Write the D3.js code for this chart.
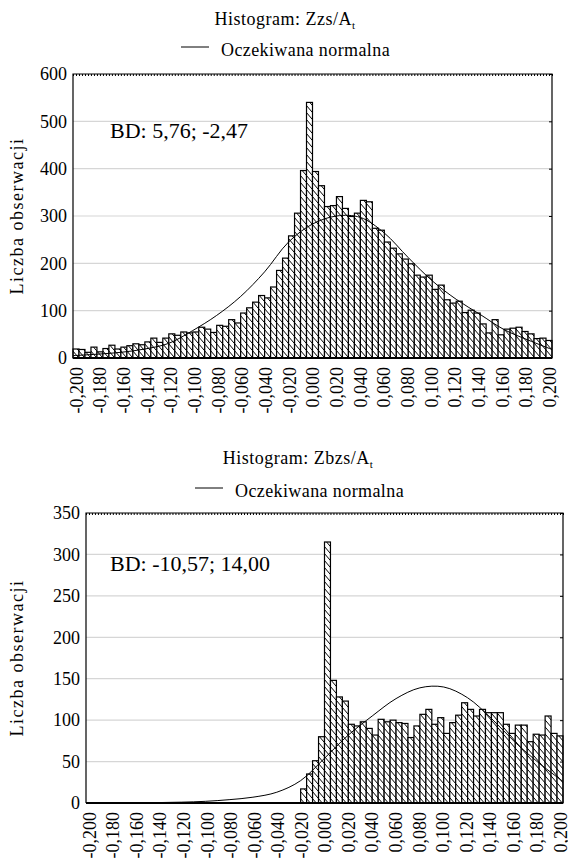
<!DOCTYPE html>
<html>
<head>
<meta charset="utf-8">
<script src="https://cdn.jsdelivr.net/npm/d3@7"></script>
<style>
body { margin: 0; background: #fff; }
svg { display: block; }
</style>
</head>
<body>
<svg width="568" height="861"></svg>
<script>
const FONT = '"Liberation Serif", "Times New Roman", serif';

// x axis: ticks every 0.02, bins of 0.005
const xTickValues = [-0.2, -0.18, -0.16, -0.14, -0.12, -0.1, -0.08, -0.06, -0.04, -0.02, 0,
  0.02, 0.04, 0.06, 0.08, 0.1, 0.12, 0.14, 0.16, 0.18, 0.2];
const xTickLabels = ["-0,200", "-0,180", "-0,160", "-0,140", "-0,120", "-0,100", "-0,080", "-0,060",
  "-0,040", "-0,020", "0,000", "0,020", "0,040", "0,060", "0,080", "0,100", "0,120", "0,140",
  "0,160", "0,180", "0,200"];
const binWidth = 0.005;
const binStarts = d3.range(80).map(i => -0.2 + i * binWidth);

// Zzs/At counts per bin
const zzsCounts = [19, 18, 12, 23, 13, 20, 27, 19, 23, 26,
  30, 28, 34, 42, 33, 42, 51, 48, 55, 53,
  55, 65, 61, 54, 69, 67, 81, 74, 95, 106,
  118, 132, 127, 150, 185, 211, 258, 306, 396, 540,
  394, 364, 320, 322, 341, 316, 299, 306, 333, 330,
  274, 270, 245, 232, 220, 209, 199, 175, 171, 175,
  145, 154, 123, 116, 120, 96, 101, 95, 72, 53,
  81, 49, 61, 63, 65, 56, 51, 41, 42, 37];
// expected normal read at each x tick
const zzsNormal = [5, 8, 12, 19, 31, 58, 90, 130, 182, 245, 283, 300, 297, 264, 212, 163, 124, 92, 60, 38, 18];

// Zbzs/At counts per bin
const zbzsCounts = [0, 0, 0, 0, 0, 0, 0, 0, 0, 0,
  0, 0, 0, 0, 0, 0, 0, 0, 0, 0,
  0, 0, 0, 0, 0, 0, 0, 0, 0, 0,
  0, 0, 0, 0, 0, 0, 17, 35, 51, 80,
  315, 148, 128, 123, 95, 93, 98, 90, 82, 101,
  98, 100, 97, 96, 79, 93, 107, 113, 95, 103,
  84, 97, 106, 121, 113, 105, 113, 109, 109, 109,
  95, 84, 94, 94, 74, 83, 82, 105, 84, 81];
const zbzsNormal = [0, 0.1, 0.2, 0.5, 1, 2, 4, 7, 13, 27, 54, 82, 105, 126, 139, 140, 127, 102, 73, 48, 26];

const svg = d3.select("svg");

const defs = svg.append("defs");
const pat = defs.append("pattern")
  .attr("id", "hatch")
  .attr("patternUnits", "userSpaceOnUse")
  .attr("width", 6).attr("height", 7);
pat.append("rect").attr("width", 6).attr("height", 7).attr("fill", "#fff");
pat.append("path")
  .attr("d", "M-1,-1.17 L7,8.17 M-7,-1.17 L1,8.17 M5,-1.17 L13,8.17")
  .attr("stroke", "#000").attr("stroke-width", 1);

function drawPanel(p) {
  const g = svg.append("g");
  const x = d3.scaleLinear().domain([-0.2, 0.2]).range([p.left, p.right]);
  // labels sit on the centres of the first and last bins
  const xLab = d3.scaleLinear().domain([-0.2, 0.2])
    .range([x(-0.2 + binWidth / 2), x(0.2 - binWidth / 2)]);
  const y = d3.scaleLinear().domain([0, p.yMax]).range([p.bottom, p.top]);
  const yTicks = d3.range(0, p.yMax + 1, p.yStep);

  // title + legend
  const t = g.append("text")
    .attr("x", p.titleX).attr("y", p.titleY)
    .attr("text-anchor", "middle")
    .attr("font-family", FONT).attr("font-size", 18).attr("letter-spacing", 0.5)
    .text(p.title);
  t.append("tspan").attr("font-size", 11).attr("dy", 4).text("t");

  g.append("line")
    .attr("x1", p.legendX).attr("x2", p.legendX + 28)
    .attr("y1", p.legendY - 9).attr("y2", p.legendY - 9)
    .attr("stroke", "#000").attr("stroke-width", 1);
  g.append("text")
    .attr("x", p.legendX + 40).attr("y", p.legendY)
    .attr("font-family", FONT).attr("font-size", 18).attr("letter-spacing", 0.4)
    .text("Oczekiwana normalna");

  // gridlines
  g.append("g").selectAll("line")
    .data(yTicks.slice(1, -1))
    .join("line")
    .attr("x1", p.left).attr("x2", p.right)
    .attr("y1", d => y(d)).attr("y2", d => y(d))
    .attr("stroke", "#d6d6d6").attr("stroke-width", 1.2);

  // bars
  g.append("g").selectAll("rect")
    .data(p.counts.map((c, i) => ({ x0: binStarts[i], c })).filter(d => d.c > 0))
    .join("rect")
    .attr("x", d => x(d.x0))
    .attr("width", d => x(d.x0 + binWidth) - x(d.x0))
    .attr("y", d => y(d.c))
    .attr("height", d => y(0) - y(d.c))
    .attr("fill", "url(#hatch)")
    .attr("stroke", "#000").attr("stroke-width", 1.2);

  // expected normal curve
  const line = d3.line()
    .x((d, i) => x(xTickValues[i]))
    .y(d => y(d))
    .curve(d3.curveCatmullRom.alpha(0.5));
  g.append("path")
    .datum(p.normal)
    .attr("d", line)
    .attr("fill", "none").attr("stroke", "#000").attr("stroke-width", 1);

  // frame
  g.append("path")
    .attr("d", `M${p.left},${p.bottom}V${p.top}H${p.right}V${p.bottom}`)
    .attr("fill", "none").attr("stroke", "#000").attr("stroke-width", 1.2);

  // minor ticks on top border
  const topAxis = g.append("g")
    .attr("transform", `translate(0,${p.top})`)
    .call(d3.axisBottom(x).tickValues(d3.range(161).map(i => -0.2 + i * 0.0025)).tickSize(2).tickFormat(""));
  topAxis.select(".domain").remove();

  // ticks on right border
  const rightAxis = g.append("g")
    .attr("transform", `translate(${p.right},0)`)
    .call(d3.axisLeft(y).tickValues(yTicks).tickSize(3).tickFormat(""));
  rightAxis.select(".domain").remove();

  // y axis labels
  const yAxis = g.append("g")
    .attr("transform", `translate(${p.left},0)`)
    .call(d3.axisLeft(y).tickValues(yTicks).tickSize(0).tickPadding(6));
  yAxis.select(".domain").remove();
  yAxis.selectAll("text")
    .attr("font-family", FONT).attr("font-size", 18).attr("fill", "#000");

  // x axis
  const xAxis = g.append("g")
    .attr("transform", `translate(0,${p.bottom})`)
    .call(d3.axisBottom(xLab).tickValues(xTickValues).tickSize(0)
      .tickFormat((d, i) => xTickLabels[i]));
  xAxis.select(".domain")
    .attr("d", `M${p.left},0H${p.right}`)
    .attr("stroke-width", 2);
  xAxis.selectAll("text")
    .attr("font-family", FONT).attr("font-size", 18).attr("fill", "#000")
    .attr("text-anchor", "end")
    .attr("transform", "rotate(-90)")
    .attr("x", -9).attr("y", 0).attr("dy", "0.35em");

  // y title
  g.append("text")
    .attr("transform", `translate(17,${(p.top + p.bottom) / 2}) rotate(-90)`)
    .attr("text-anchor", "middle").attr("dy", "0.35em")
    .attr("font-family", FONT).attr("font-size", 18).attr("letter-spacing", 1.5)
    .text("Liczba obserwacji");

  // annotation
  g.append("text")
    .attr("x", 110).attr("y", p.bdY)
    .attr("font-family", FONT).attr("font-size", 22)
    .text(p.bd);
}

drawPanel({
  title: "Histogram: Zzs/A", counts: zzsCounts, normal: zzsNormal,
  yMax: 600, yStep: 100, left: 73, right: 552, top: 74, bottom: 358,
  titleX: 285, titleY: 25, legendX: 181, legendY: 56,
  bd: "BD: 5,76; -2,47", bdY: 138
});

drawPanel({
  title: "Histogram: Zbzs/A", counts: zbzsCounts, normal: zbzsNormal,
  yMax: 350, yStep: 50, left: 86, right: 563, top: 513, bottom: 803,
  titleX: 298, titleY: 464, legendX: 195, legendY: 497,
  bd: "BD: -10,57; 14,00", bdY: 571
});
</script>
</body>
</html>
